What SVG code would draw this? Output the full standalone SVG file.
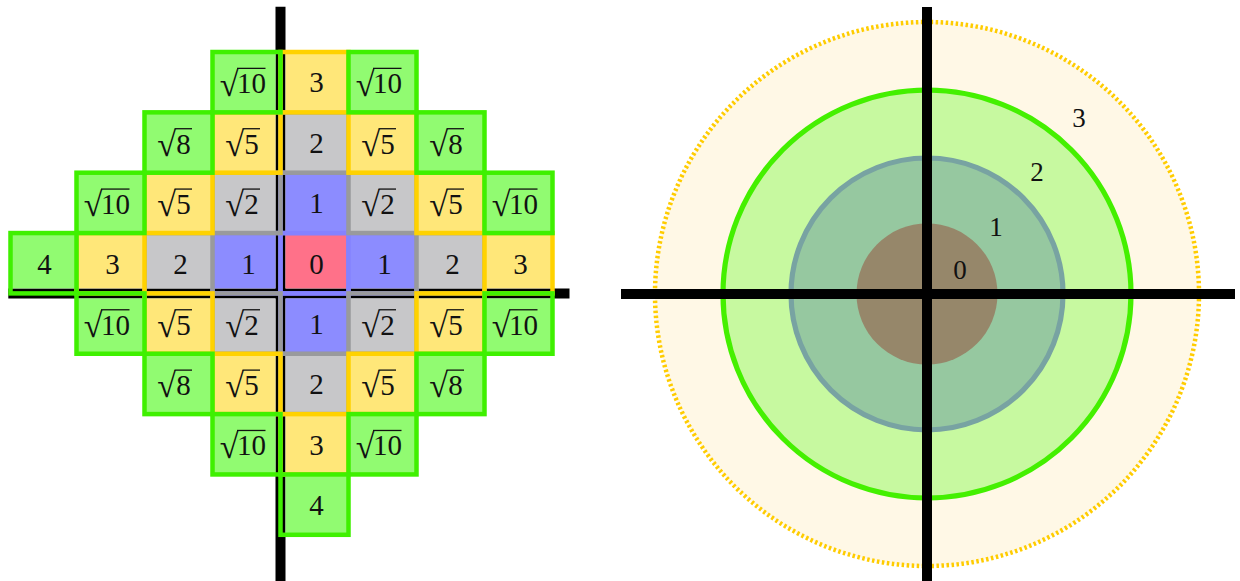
<svg xmlns="http://www.w3.org/2000/svg" width="1240" height="581" viewBox="0 0 1240 581">
<style>
.f-g{fill:#91fb71}.f-y{fill:#ffe779}.f-s{fill:#c7c7c9}.f-b{fill:#8c8cff}.f-r{fill:#ff7189}
.o{fill:none;stroke-width:4.5;stroke-linejoin:miter}
.o-g{stroke:#3ff000}.o-y{stroke:#ffd200}.o-s{stroke:#999a9c}.o-b{stroke:#8482ff}
.t{font-family:"Liberation Serif",serif;font-size:29px;fill:#111;text-anchor:middle}
.rad{font-family:"Liberation Serif",serif;font-size:34px;fill:#111;text-anchor:end}
.vin{stroke:#111;stroke-width:1.3}
.ax{stroke:#000;stroke-width:10;fill:none}
.lbl{font-family:"Liberation Serif",serif;font-size:27px;fill:#111;text-anchor:middle}
</style>

<g id="axes-left">
<line class="ax" x1="8.3" y1="293.4" x2="569.5" y2="293.4"/>
<line class="ax" x1="280.5" y1="6.7" x2="280.5" y2="581"/>
</g>

<!-- distance 0 -->
<g id="cell-r3c4" transform="translate(314.5,263.225)"><rect class="f-r" x="-29" y="-30.175" width="63" height="55.35"/><rect class="o o-b" x="-34" y="-30.175" width="68" height="60.35"/><text class="t" x="2" y="10.3">0</text></g>
<!-- distance 1 -->
<g id="cell-r2c4" transform="translate(314.5,202.875)"><rect class="f-b" x="-29" y="-30.175" width="63" height="60.35"/><rect class="o o-b" x="-34" y="-30.175" width="68" height="60.35"/><text class="t" x="2" y="10.3">1</text></g>
<g id="cell-r3c3" transform="translate(246.5,263.225)"><rect class="f-b" x="-34" y="-30.175" width="63" height="55.35"/><rect class="o o-b" x="-34" y="-30.175" width="68" height="60.35"/><text class="t" x="2" y="10.3">1</text></g>
<g id="cell-r3c5" transform="translate(382.5,263.225)"><rect class="f-b" x="-34" y="-30.175" width="68" height="55.35"/><rect class="o o-b" x="-34" y="-30.175" width="68" height="60.35"/><text class="t" x="2" y="10.3">1</text></g>
<g id="cell-r4c4" transform="translate(314.5,323.575)"><rect class="f-b" x="-29" y="-25.175" width="63" height="55.35"/><rect class="o o-b" x="-34" y="-30.175" width="68" height="60.35"/><text class="t" x="2" y="10.3">1</text></g>
<!-- distance sqrt2 -->
<g id="cell-r2c3" transform="translate(246.5,202.875)"><rect class="f-s" x="-34" y="-30.175" width="63" height="60.35"/><rect class="o o-s" x="-34" y="-30.175" width="68" height="60.35"/><text class="rad" x="-2.5" y="13.5">√</text><line class="vin" x1="-4" y1="-13.8" x2="13.5" y2="-13.8"/><text class="t" x="5" y="11">2</text></g>
<g id="cell-r2c5" transform="translate(382.5,202.875)"><rect class="f-s" x="-34" y="-30.175" width="68" height="60.35"/><rect class="o o-s" x="-34" y="-30.175" width="68" height="60.35"/><text class="rad" x="-2.5" y="13.5">√</text><line class="vin" x1="-4" y1="-13.8" x2="13.5" y2="-13.8"/><text class="t" x="5" y="11">2</text></g>
<g id="cell-r4c3" transform="translate(246.5,323.575)"><rect class="f-s" x="-34" y="-25.175" width="63" height="55.35"/><rect class="o o-s" x="-34" y="-30.175" width="68" height="60.35"/><text class="rad" x="-2.5" y="13.5">√</text><line class="vin" x1="-4" y1="-13.8" x2="13.5" y2="-13.8"/><text class="t" x="5" y="11">2</text></g>
<g id="cell-r4c5" transform="translate(382.5,323.575)"><rect class="f-s" x="-34" y="-25.175" width="68" height="55.35"/><rect class="o o-s" x="-34" y="-30.175" width="68" height="60.35"/><text class="rad" x="-2.5" y="13.5">√</text><line class="vin" x1="-4" y1="-13.8" x2="13.5" y2="-13.8"/><text class="t" x="5" y="11">2</text></g>
<!-- distance 2 -->
<g id="cell-r1c4" transform="translate(314.5,142.525)"><rect class="f-s" x="-29" y="-30.175" width="63" height="60.35"/><rect class="o o-s" x="-34" y="-30.175" width="68" height="60.35"/><text class="t" x="2" y="10.3">2</text></g>
<g id="cell-r3c2" transform="translate(178.5,263.225)"><rect class="f-s" x="-34" y="-30.175" width="68" height="55.35"/><rect class="o o-s" x="-34" y="-30.175" width="68" height="60.35"/><text class="t" x="2" y="10.3">2</text></g>
<g id="cell-r3c6" transform="translate(450.5,263.225)"><rect class="f-s" x="-34" y="-30.175" width="68" height="55.35"/><rect class="o o-s" x="-34" y="-30.175" width="68" height="60.35"/><text class="t" x="2" y="10.3">2</text></g>
<g id="cell-r5c4" transform="translate(314.5,383.925)"><rect class="f-s" x="-29" y="-30.175" width="63" height="60.35"/><rect class="o o-s" x="-34" y="-30.175" width="68" height="60.35"/><text class="t" x="2" y="10.3">2</text></g>
<!-- distance sqrt5 -->
<g id="cell-r1c3" transform="translate(246.5,142.525)"><rect class="f-y" x="-34" y="-30.175" width="63" height="60.35"/><rect class="o o-y" x="-34" y="-30.175" width="68" height="60.35"/><text class="rad" x="-2.5" y="13.5">√</text><line class="vin" x1="-4" y1="-13.8" x2="13.5" y2="-13.8"/><text class="t" x="5" y="11">5</text></g>
<g id="cell-r1c5" transform="translate(382.5,142.525)"><rect class="f-y" x="-34" y="-30.175" width="68" height="60.35"/><rect class="o o-y" x="-34" y="-30.175" width="68" height="60.35"/><text class="rad" x="-2.5" y="13.5">√</text><line class="vin" x1="-4" y1="-13.8" x2="13.5" y2="-13.8"/><text class="t" x="5" y="11">5</text></g>
<g id="cell-r2c2" transform="translate(178.5,202.875)"><rect class="f-y" x="-34" y="-30.175" width="68" height="60.35"/><rect class="o o-y" x="-34" y="-30.175" width="68" height="60.35"/><text class="rad" x="-2.5" y="13.5">√</text><line class="vin" x1="-4" y1="-13.8" x2="13.5" y2="-13.8"/><text class="t" x="5" y="11">5</text></g>
<g id="cell-r2c6" transform="translate(450.5,202.875)"><rect class="f-y" x="-34" y="-30.175" width="68" height="60.35"/><rect class="o o-y" x="-34" y="-30.175" width="68" height="60.35"/><text class="rad" x="-2.5" y="13.5">√</text><line class="vin" x1="-4" y1="-13.8" x2="13.5" y2="-13.8"/><text class="t" x="5" y="11">5</text></g>
<g id="cell-r4c2" transform="translate(178.5,323.575)"><rect class="f-y" x="-34" y="-25.175" width="68" height="55.35"/><rect class="o o-y" x="-34" y="-30.175" width="68" height="60.35"/><text class="rad" x="-2.5" y="13.5">√</text><line class="vin" x1="-4" y1="-13.8" x2="13.5" y2="-13.8"/><text class="t" x="5" y="11">5</text></g>
<g id="cell-r4c6" transform="translate(450.5,323.575)"><rect class="f-y" x="-34" y="-25.175" width="68" height="55.35"/><rect class="o o-y" x="-34" y="-30.175" width="68" height="60.35"/><text class="rad" x="-2.5" y="13.5">√</text><line class="vin" x1="-4" y1="-13.8" x2="13.5" y2="-13.8"/><text class="t" x="5" y="11">5</text></g>
<g id="cell-r5c3" transform="translate(246.5,383.925)"><rect class="f-y" x="-34" y="-30.175" width="63" height="60.35"/><rect class="o o-y" x="-34" y="-30.175" width="68" height="60.35"/><text class="rad" x="-2.5" y="13.5">√</text><line class="vin" x1="-4" y1="-13.8" x2="13.5" y2="-13.8"/><text class="t" x="5" y="11">5</text></g>
<g id="cell-r5c5" transform="translate(382.5,383.925)"><rect class="f-y" x="-34" y="-30.175" width="68" height="60.35"/><rect class="o o-y" x="-34" y="-30.175" width="68" height="60.35"/><text class="rad" x="-2.5" y="13.5">√</text><line class="vin" x1="-4" y1="-13.8" x2="13.5" y2="-13.8"/><text class="t" x="5" y="11">5</text></g>
<!-- distance 3 -->
<g id="cell-r0c4" transform="translate(314.5,82.175)"><rect class="f-y" x="-29" y="-30.175" width="63" height="60.35"/><rect class="o o-y" x="-34" y="-30.175" width="68" height="60.35"/><text class="t" x="2" y="10.3">3</text></g>
<g id="cell-r3c1" transform="translate(110.5,263.225)"><rect class="f-y" x="-34" y="-30.175" width="68" height="55.35"/><rect class="o o-y" x="-34" y="-30.175" width="68" height="60.35"/><text class="t" x="2" y="10.3">3</text></g>
<g id="cell-r3c7" transform="translate(518.5,263.225)"><rect class="f-y" x="-34" y="-30.175" width="68" height="55.35"/><rect class="o o-y" x="-34" y="-30.175" width="68" height="60.35"/><text class="t" x="2" y="10.3">3</text></g>
<g id="cell-r6c4" transform="translate(314.5,444.275)"><rect class="f-y" x="-29" y="-30.175" width="63" height="60.35"/><rect class="o o-y" x="-34" y="-30.175" width="68" height="60.35"/><text class="t" x="2" y="10.3">3</text></g>
<!-- distance sqrt8 -->
<g id="cell-r1c2" transform="translate(178.5,142.525)"><rect class="f-g" x="-34" y="-30.175" width="68" height="60.35"/><rect class="o o-g" x="-34" y="-30.175" width="68" height="60.35"/><text class="rad" x="-2.5" y="13.5">√</text><line class="vin" x1="-4" y1="-13.8" x2="13.5" y2="-13.8"/><text class="t" x="5" y="11">8</text></g>
<g id="cell-r1c6" transform="translate(450.5,142.525)"><rect class="f-g" x="-34" y="-30.175" width="68" height="60.35"/><rect class="o o-g" x="-34" y="-30.175" width="68" height="60.35"/><text class="rad" x="-2.5" y="13.5">√</text><line class="vin" x1="-4" y1="-13.8" x2="13.5" y2="-13.8"/><text class="t" x="5" y="11">8</text></g>
<g id="cell-r5c2" transform="translate(178.5,383.925)"><rect class="f-g" x="-34" y="-30.175" width="68" height="60.35"/><rect class="o o-g" x="-34" y="-30.175" width="68" height="60.35"/><text class="rad" x="-2.5" y="13.5">√</text><line class="vin" x1="-4" y1="-13.8" x2="13.5" y2="-13.8"/><text class="t" x="5" y="11">8</text></g>
<g id="cell-r5c6" transform="translate(450.5,383.925)"><rect class="f-g" x="-34" y="-30.175" width="68" height="60.35"/><rect class="o o-g" x="-34" y="-30.175" width="68" height="60.35"/><text class="rad" x="-2.5" y="13.5">√</text><line class="vin" x1="-4" y1="-13.8" x2="13.5" y2="-13.8"/><text class="t" x="5" y="11">8</text></g>
<!-- distance sqrt10 -->
<g id="cell-r0c3" transform="translate(246.5,82.175)"><rect class="f-g" x="-34" y="-30.175" width="63" height="60.35"/><rect class="o o-g" x="-34" y="-30.175" width="68" height="60.35"/><text class="rad" x="-8" y="13.5">√</text><line class="vin" x1="-9.5" y1="-13.8" x2="19" y2="-13.8"/><text class="t" x="5" y="11">10</text></g>
<g id="cell-r0c5" transform="translate(382.5,82.175)"><rect class="f-g" x="-34" y="-30.175" width="68" height="60.35"/><rect class="o o-g" x="-34" y="-30.175" width="68" height="60.35"/><text class="rad" x="-8" y="13.5">√</text><line class="vin" x1="-9.5" y1="-13.8" x2="19" y2="-13.8"/><text class="t" x="5" y="11">10</text></g>
<g id="cell-r2c1" transform="translate(110.5,202.875)"><rect class="f-g" x="-34" y="-30.175" width="68" height="60.35"/><rect class="o o-g" x="-34" y="-30.175" width="68" height="60.35"/><text class="rad" x="-8" y="13.5">√</text><line class="vin" x1="-9.5" y1="-13.8" x2="19" y2="-13.8"/><text class="t" x="5" y="11">10</text></g>
<g id="cell-r2c7" transform="translate(518.5,202.875)"><rect class="f-g" x="-34" y="-30.175" width="68" height="60.35"/><rect class="o o-g" x="-34" y="-30.175" width="68" height="60.35"/><text class="rad" x="-8" y="13.5">√</text><line class="vin" x1="-9.5" y1="-13.8" x2="19" y2="-13.8"/><text class="t" x="5" y="11">10</text></g>
<g id="cell-r4c1" transform="translate(110.5,323.575)"><rect class="f-g" x="-34" y="-25.175" width="68" height="55.35"/><rect class="o o-g" x="-34" y="-30.175" width="68" height="60.35"/><text class="rad" x="-8" y="13.5">√</text><line class="vin" x1="-9.5" y1="-13.8" x2="19" y2="-13.8"/><text class="t" x="5" y="11">10</text></g>
<g id="cell-r4c7" transform="translate(518.5,323.575)"><rect class="f-g" x="-34" y="-25.175" width="68" height="55.35"/><rect class="o o-g" x="-34" y="-30.175" width="68" height="60.35"/><text class="rad" x="-8" y="13.5">√</text><line class="vin" x1="-9.5" y1="-13.8" x2="19" y2="-13.8"/><text class="t" x="5" y="11">10</text></g>
<g id="cell-r6c3" transform="translate(246.5,444.275)"><rect class="f-g" x="-34" y="-30.175" width="63" height="60.35"/><rect class="o o-g" x="-34" y="-30.175" width="68" height="60.35"/><text class="rad" x="-8" y="13.5">√</text><line class="vin" x1="-9.5" y1="-13.8" x2="19" y2="-13.8"/><text class="t" x="5" y="11">10</text></g>
<g id="cell-r6c5" transform="translate(382.5,444.275)"><rect class="f-g" x="-34" y="-30.175" width="68" height="60.35"/><rect class="o o-g" x="-34" y="-30.175" width="68" height="60.35"/><text class="rad" x="-8" y="13.5">√</text><line class="vin" x1="-9.5" y1="-13.8" x2="19" y2="-13.8"/><text class="t" x="5" y="11">10</text></g>
<!-- distance 4 -->
<g id="cell-r3c0" transform="translate(43.5,263.225)"><rect class="f-g" x="-33" y="-30.175" width="66" height="55.35"/><rect class="o o-g" x="-33" y="-30.175" width="66" height="60.35"/><text class="t" x="1" y="10.3">4</text></g>
<g id="cell-r7c4" transform="translate(314.5,504.625)"><rect class="f-g" x="-29" y="-30.175" width="63" height="60.35"/><rect class="o o-g" x="-34" y="-30.175" width="68" height="60.35"/><text class="t" x="2" y="10.3">4</text></g>

<!-- right diagram -->
<g id="ring-3"><circle cx="927" cy="294" r="272" fill="#fff8e6" stroke="#ffcc00" stroke-width="4.5" stroke-dasharray="2.5 2.5"/><text class="lbl" x="1079" y="127">3</text></g>
<g id="ring-2"><circle cx="927" cy="294" r="204" fill="#c7f9a0" stroke="#44f000" stroke-width="5.2"/><text class="lbl" x="1037" y="181">2</text></g>
<g id="ring-1"><circle cx="927" cy="294" r="136" fill="#96c8a0" stroke="#78a3a2" stroke-width="5.2"/><text class="lbl" x="996" y="236">1</text></g>
<g id="ring-0"><circle cx="927" cy="294" r="70.5" fill="#96876a"/><text class="lbl" x="960" y="279">0</text></g>
<g id="axes-right">
<line class="ax" x1="621" y1="294" x2="1235" y2="294"/>
<line class="ax" x1="927" y1="7" x2="927" y2="581"/>
</g>
</svg>
